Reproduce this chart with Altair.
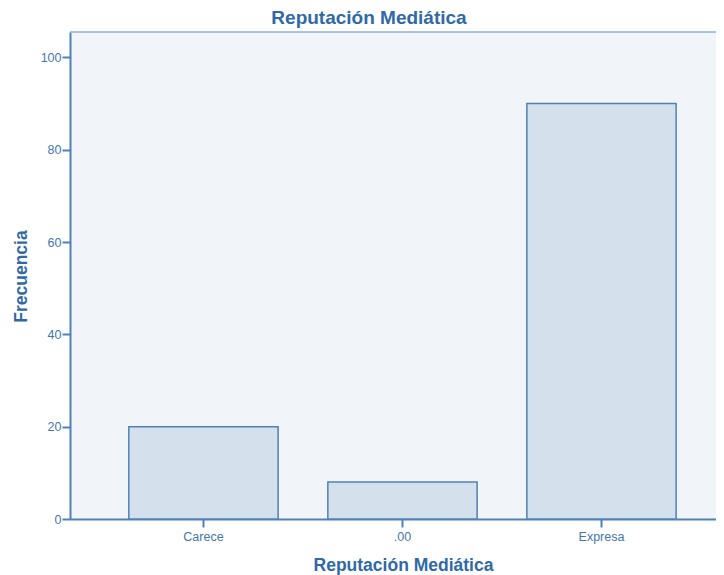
import altair as alt
import pandas as pd

categories = ["Carece", ".00", "Expresa"]
frequencies = [20, 8, 90]
y_ticks = [0, 20, 40, 60, 80, 100]

df = pd.DataFrame({"cat": categories, "freq": frequencies})

axis_color = "#4f80b6"
text_color = "#4476ad"
title_color = "#2f69a6"
font = "Liberation Sans"

bars = alt.Chart(df).mark_bar(
    fill="#d4e0ec", stroke="#4f81b5", strokeWidth=1.5
).encode(
    x=alt.X(
        "cat:N",
        sort=categories,
        scale=alt.Scale(paddingInner=0.25, paddingOuter=0.248, align=0.596),
        axis=alt.Axis(
            title="Reputación Mediática",
            labelAngle=0,
            labelFontSize=12.5,
            labelPadding=3,
            titleFontSize=17.5,
            titleBaseline="alphabetic",
            titleX=333,
            titleY=51,
        ),
    ),
    y=alt.Y(
        "freq:Q",
        scale=alt.Scale(domain=[0, 105.5], nice=False),
        axis=alt.Axis(
            values=y_ticks,
            title="Frecuencia",
            grid=False,
            labelFontSize=12.5,
            labelPadding=1,
            titleFontSize=17.5,
            titleBaseline="alphabetic",
            titleX=-44,
            titleY=244,
        ),
    ),
)

top = alt.Chart(pd.DataFrame({"a": [0]})).mark_rule(
    color="#8fb0d4", strokeWidth=1.5
).encode(x=alt.value(0), x2=alt.value(646), y=alt.value(0))

chart = (
    alt.layer(bars, top)
    .properties(
        width=646,
        height=487,
        autosize=alt.AutoSizeParams(type="none"),
        padding={"left": 62, "top": 24, "right": 0, "bottom": 56},
        title=alt.TitleParams(
            "Reputación Mediática",
            fontSize=19,
            fontWeight="bold",
            color=title_color,
            font=font,
            anchor="middle",
            dx=-24,
            offset=3,
        ),
    )
    .configure_view(stroke=None, fill="#f1f5f9")
    .configure_axis(
        domainColor=axis_color,
        domainWidth=2,
        tickColor=axis_color,
        tickWidth=2,
        tickSize=8,
        labelColor=text_color,
        titleColor=title_color,
        labelFont=font,
        titleFont=font,
        titleFontWeight="bold",
    )
)

chart.save("out.html", embed_options={"renderer": "svg", "actions": False})
